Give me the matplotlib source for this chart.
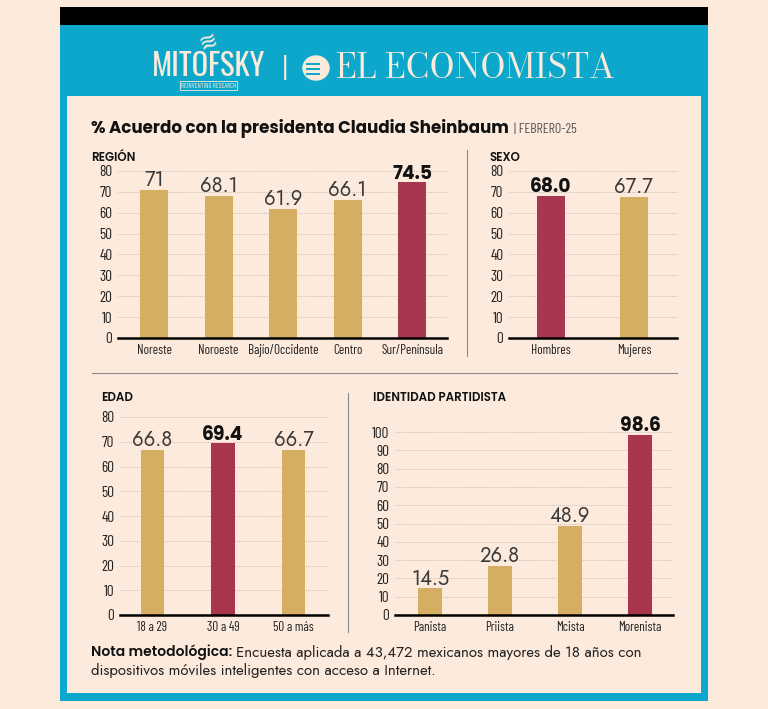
import matplotlib
matplotlib.use("Agg")
import matplotlib.pyplot as plt
from matplotlib.patches import Rectangle, Circle
import numpy as np

# ---- data ----
region_cats = ["Noreste", "Noroeste", "Bajío/Occidente", "Centro", "Sur/Península"]
region_vals = [71, 68.1, 61.9, 66.1, 74.5]
region_labels = ["71", "68.1", "61.9", "66.1", "74.5"]
region_hi = [False, False, False, False, True]

sexo_cats = ["Hombres", "Mujeres"]
sexo_vals = [68.0, 67.7]
sexo_labels = ["68.0", "67.7"]
sexo_hi = [True, False]

edad_cats = ["18 a 29", "30 a 49", "50 a más"]
edad_vals = [66.8, 69.4, 66.7]
edad_labels = ["66.8", "69.4", "66.7"]
edad_hi = [False, True, False]

ident_cats = ["Panista", "Priista", "Mcista", "Morenista"]
ident_vals = [14.5, 26.8, 48.9, 98.6]
ident_labels = ["14.5", "26.8", "48.9", "98.6"]
ident_hi = [False, False, False, True]

# ---- style ----
W, H = 768, 709
BG = "#FCEADC"
BLUE = "#0DA7CB"
GOLD = "#D5AD63"
RED = "#A9364F"
CREAM = "#FBEBDB"
COND = ["Barlow Condensed", "DejaVu Sans"]
FUT = ["Jost", "DejaVu Sans"]
POP = ["Poppins", "DejaVu Sans"]

fig = plt.figure(figsize=(W / 100, H / 100), dpi=100)
fig.patch.set_facecolor(BG)


def fx(x):
    return x / W


def fy(y):
    return 1 - y / H


def rect(x0, y0, x1, y1, color, z=-5):
    fig.patches.append(Rectangle((fx(x0), fy(y1)), fx(x1) - fx(x0), fy(y0) - fy(y1),
                                 transform=fig.transFigure, color=color, zorder=z, lw=0))


# frames
rect(60, 7, 708, 25, "#000000")
rect(60, 25, 708, 701, BLUE)
rect(67, 96, 701, 693, BG, z=-4)

# header
fig.text(fx(209), fy(66), "MITOFSKY", color=CREAM, fontsize=22, fontweight="bold",
         family=["Oswald", "DejaVu Sans"], ha="center", va="center")
fig.text(fx(209), fy(86), "REINVENTING RESEARCH", color=CREAM, fontsize=4.8,
         family=COND, ha="center", va="center",
         bbox=dict(boxstyle="round,pad=0.15", fc="none", ec=CREAM, lw=0.6))
fig.text(fx(209), fy(42), "≋", color=CREAM, fontsize=16, ha="center", va="center", rotation=20)
fig.text(fx(285), fy(68), "|", color=CREAM, fontsize=18, ha="center", va="center")
# globe icon
gx, gy = 316, 68
fig.patches.append(Circle((fx(gx), fy(gy)), 13 / W, transform=fig.transFigure,
                          color=CREAM, zorder=2))
for dy in (-4, 1, 6):
    fig.patches.append(Rectangle((fx(gx - 10), fy(gy + dy + 1.2)), 14 / W, 2.2 / H,
                                 transform=fig.transFigure, color=BLUE, zorder=3, lw=0))
fig.text(fx(336), fy(69), "EL ECONOMISTA", color=CREAM, fontsize=24,
         family=["Bodoni Moda", "Liberation Serif"], ha="left", va="center")

# title
tt = fig.text(fx(91), fy(129), "% Acuerdo con la presidenta Claudia Sheinbaum", fontsize=12,
              fontweight="bold", family=POP, ha="left", va="center", color="#111111")
fig.canvas.draw()
tb = tt.get_window_extent()
fig.text((tb.x1 + 5) / W, fy(129), "| FEBRERO-25", fontsize=10, family=COND, ha="left",
         va="center", color="#555555")

# separators
fig.add_artist(plt.Line2D([fx(467), fx(467)], [fy(150), fy(356)], color="#8a8a8a", lw=0.8))
fig.add_artist(plt.Line2D([fx(92), fx(677)], [fy(373), fy(373)], color="#8a8a8a", lw=0.8))
fig.add_artist(plt.Line2D([fx(348), fx(348)], [fy(393), fy(632)], color="#8a8a8a", lw=0.8))

# section labels
for x, y, s in [(91, 158, "REGIÓN"), (489, 158, "SEXO"), (101, 398, "EDAD"),
                (373, 398, "IDENTIDAD PARTIDISTA")]:
    fig.text(fx(x), fy(y), s, fontsize=8.5, fontweight="semibold", family=POP,
             ha="left", va="center", color="#111111")


def panel(box, cats, vals, labels, hi, xlim, width, ymax):
    l, tp, r, b = box
    ax = fig.add_axes([fx(l), fy(b), fx(r) - fx(l), fy(tp) - fy(b)], zorder=2)
    ax.set_facecolor("none")
    x = np.arange(len(cats))
    colors = [RED if h else GOLD for h in hi]
    ax.bar(x, vals, width=width, color=colors, zorder=3)
    ax.set_xlim(*xlim)
    ax.set_ylim(0, ymax)
    ax.set_yticks(np.arange(0, ymax + 1, 10))
    ax.set_xticks(x)
    ax.set_xticklabels(cats, fontsize=9.5, family=COND, color="#222222")
    for lab in ax.get_yticklabels():
        lab.set_fontsize(11)
        lab.set_family(COND)
        lab.set_color("#222222")
    ax.tick_params(length=0, pad=4)
    for s in ("left", "right", "top"):
        ax.spines[s].set_visible(False)
    ax.spines["bottom"].set_linewidth(1.8)
    ax.spines["bottom"].set_zorder(4)
    for yv in np.arange(10, ymax + 1, 10):
        ax.axhline(yv, color="#b9aea6", lw=0.6, ls=(0, (1, 1.5)), zorder=1)
    for xi, v, s, h in zip(x, vals, labels, hi):
        if h:
            ax.annotate(s, (xi, v), xytext=(0, -1), textcoords="offset points",
                        ha="center", va="bottom", fontsize=13.5, fontweight="bold",
                        family=POP, color="#111111", annotation_clip=False)
        else:
            ax.annotate(s, (xi, v), xytext=(0, -1), textcoords="offset points",
                        ha="center", va="bottom", fontsize=14.5,
                        family=FUT, color="#3a3a3a", annotation_clip=False)
    return ax


panel((118, 171, 447, 338), region_cats, region_vals, region_labels, region_hi,
      (-0.56, 4.54), 0.43, 80)
panel((509, 171, 677, 338), sexo_cats, sexo_vals, sexo_labels, sexo_hi,
      (-0.506, 1.52), 0.33, 80)
panel((120, 417, 328, 615), edad_cats, edad_vals, edad_labels, edad_hi,
      (-0.46, 2.49), 0.33, 80)
panel((395, 432, 673, 615), ident_cats, ident_vals, ident_labels, ident_hi,
      (-0.5, 3.47), 0.34, 100)

# note
nb = fig.text(fx(91), fy(652), "Nota metodológica:", fontsize=10, fontweight="semibold",
              family=POP, ha="left", va="center", color="#111111")
fig.canvas.draw()
bb = nb.get_window_extent()
fig.text((bb.x1 + 4) / W, fy(652), "Encuesta aplicada a 43,472 mexicanos mayores de 18 años con",
         fontsize=10.8, family=FUT, ha="left", va="center", color="#222222")
fig.text(fx(91), fy(671), "dispositivos móviles inteligentes con acceso a Internet.",
         fontsize=10.8, family=FUT, ha="left", va="center", color="#222222")

fig.savefig("out.png", dpi=100, facecolor=BG)
